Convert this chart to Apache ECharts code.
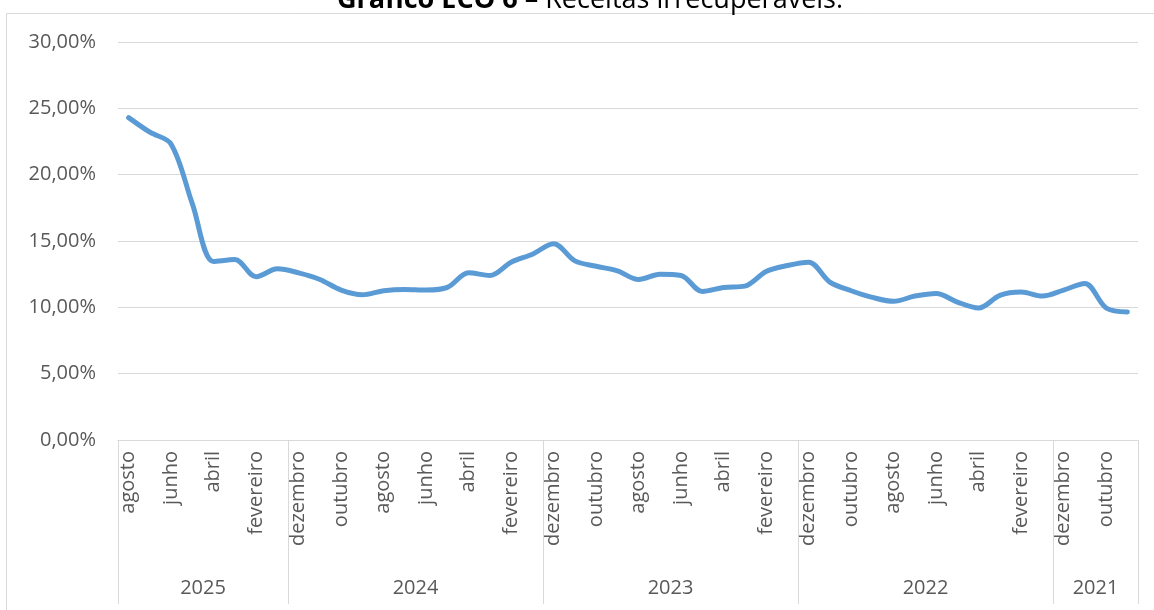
<!DOCTYPE html>
<html>
<head>
<meta charset="utf-8">
<script src="https://cdn.jsdelivr.net/npm/echarts@6/dist/echarts.min.js"></script>
<style>html,body{margin:0;padding:0;background:#fff}#c{width:1154px;height:610px}</style>
</head>
<body>
<div id="c"></div>
<script>
var months = [
  'agosto','julho','junho','maio','abril','março','fevereiro','janeiro',
  'dezembro','novembro','outubro','setembro','agosto','julho','junho','maio','abril','março','fevereiro','janeiro',
  'dezembro','novembro','outubro','setembro','agosto','julho','junho','maio','abril','março','fevereiro','janeiro',
  'dezembro','novembro','outubro','setembro','agosto','julho','junho','maio','abril','março','fevereiro','janeiro',
  'dezembro','novembro','outubro','setembro'
];
var yearLabels = ['2025','2024','2023','2022','2021'];
var monthsPerYear = [8, 12, 12, 12, 4];
var values = [
  24.3, 23.2, 22.3, 17.8, 13.45, 13.6, 12.3, 12.9,
  12.6, 12.1, 11.3, 10.95, 11.25, 11.35, 11.3, 11.5, 12.6, 12.4, 13.4, 14.0,
  14.8, 13.5, 13.1, 12.75, 12.1, 12.5, 12.4, 11.2, 11.5, 11.6, 12.7, 13.15,
  13.4, 11.9, 11.25, 10.75, 10.45, 10.85, 11.05, 10.4, 9.95, 10.9, 11.15, 10.85,
  11.3, 11.8, 9.95, 9.65
];
var yTicks = [0, 5, 10, 15, 20, 25, 30];

var FONT = 'Open Sans';
var TXT = '#595959';
var GRID = '#d9d9d9';

var bounds = [0], mids = [], midLabel = {};
var acc = 0;
for (var i = 0; i < monthsPerYear.length; i++) {
  mids.push(acc + monthsPerYear[i] / 2);
  midLabel[acc + monthsPerYear[i] / 2] = yearLabels[i];
  acc += monthsPerYear[i];
  bounds.push(acc);
}

var chart = echarts.init(document.getElementById('c'), null, {renderer: 'canvas'});
chart.setOption({
  animation: false,
  backgroundColor: '#fff',
  graphic: [
    {type: 'rect', shape: {x: 6.5, y: 13.5, width: 1300, height: 700}, style: {fill: 'none', stroke: GRID, lineWidth: 1}, z: -1},
    {type: 'text', x: 590, y: 0, style: {
      text: '{b|Gráfico ECO 6} – Receitas irrecuperáveis.',
      rich: {b: {fontWeight: 'bold', fontFamily: FONT, fontSize: 27, fill: '#000'}},
      fontFamily: FONT, fontSize: 27, fill: '#000', align: 'center', verticalAlign: 'middle'
    }}
  ],
  grid: {left: 118, right: 16, top: 42, bottom: 170, containLabel: false},
  xAxis: [
    {
      type: 'category', data: months, boundaryGap: true,
      axisLine: {show: true, lineStyle: {color: GRID, width: 1}},
      axisTick: {show: false},
      axisLabel: {interval: 1, rotate: 90, margin: 11, fontFamily: FONT, fontSize: 20, color: TXT},
      splitLine: {show: false}
    },
    {
      type: 'value', min: 0, max: acc, position: 'bottom',
      axisLine: {show: false},
      axisTick: {show: true, customValues: bounds, length: 164, lineStyle: {color: GRID, width: 1}},
      axisLabel: {show: true, customValues: mids, margin: 138, fontFamily: FONT, fontSize: 20, color: TXT,
        formatter: function (v) { return midLabel[v] || ''; }},
      splitLine: {show: false}
    }
  ],
  yAxis: {
    type: 'value', min: yTicks[0], max: yTicks[yTicks.length - 1], interval: yTicks[1] - yTicks[0],
    axisLine: {show: false}, axisTick: {show: false},
    axisLabel: {margin: 22, fontFamily: FONT, fontSize: 20, color: TXT,
      formatter: function (v) { return v.toFixed(2).replace('.', ',') + '%'; }},
    splitLine: {show: true, lineStyle: {color: GRID, width: 1}}
  },
  series: [{
    type: 'line', data: values, xAxisIndex: 0, smooth: 0.33, symbol: 'none',
    lineStyle: {color: '#5B9BD5', width: 5, cap: 'round', join: 'round'}
  }]
});
</script>
</body>
</html>
